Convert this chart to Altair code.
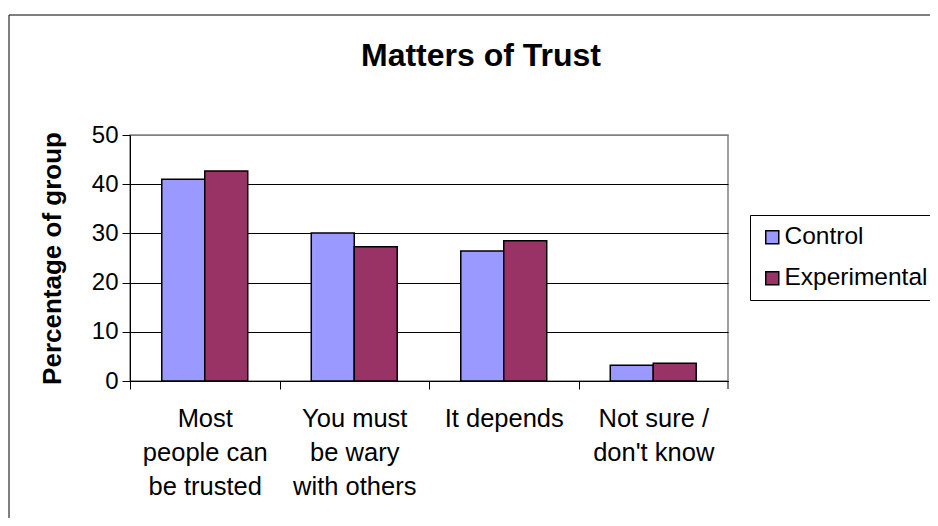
import altair as alt
import pandas as pd

categories = ["Most\npeople can\nbe trusted", "You must\nbe wary\nwith others", "It depends", "Not sure /\ndon't know"]
groups = ["Control", "Experimental"]
control = [41.0, 30.1, 26.4, 3.2]
experimental = [42.7, 27.3, 28.5, 3.6]
colors = ["#9999FF", "#993366"]
y_ticks = [0, 10, 20, 30, 40, 50]
title_text = "Matters of Trust"
y_title = "Percentage of group"

rows = []
for c, v in zip(categories, control):
    rows.append({"category": c, "group": "Control", "value": v})
for c, v in zip(categories, experimental):
    rows.append({"category": c, "group": "Experimental", "value": v})
df = pd.DataFrame(rows)

FONT = "Liberation Sans"
W, H = 598, 246
STEP = W / (len(categories) - 0.425 + 2 * 0.2125)

bars = alt.Chart(df).mark_bar(stroke="black", strokeWidth=1.5).encode(
    x=alt.X("category:N", sort=categories, title=None,
            scale=alt.Scale(paddingInner=0.425, paddingOuter=0.2125),
            axis=alt.Axis(labelExpr="split(datum.value, '\\n')", labelAngle=0,
                          labelFontSize=25.5, labelFont=FONT, labelColor="black",
                          labelLineHeight=34, labelPadding=17, labelBaseline="top",
                          labelAlign="center", labelLimit=0,
                          tickOffset=-STEP / 2, labelOffset=STEP / 2,
                          tickSize=8, tickColor="black", domainColor="black",
                          grid=False)),
    xOffset=alt.XOffset("group:N", sort=groups,
                        scale=alt.Scale(paddingInner=0, paddingOuter=0)),
    y=alt.Y("value:Q", scale=alt.Scale(domain=[0, 50], nice=False),
            axis=alt.Axis(values=y_ticks, title=y_title, titleFontSize=26,
                          titleFont=FONT, titleFontWeight="bold", titleColor="black",
                          titleAngle=270, titleX=-78, titleY=123, titleAlign="center",
                          titleBaseline="middle",
                          labelFontSize=24, labelFont=FONT, labelColor="black",
                          labelPadding=4, tickSize=8, tickColor="black",
                          domainColor="black", grid=True,
                          gridColor={"condition": {"test": "datum.value === 50", "value": "#808080"}, "value": "black"},
                          gridWidth=1)),
    color=alt.Color("group:N", sort=groups,
                    scale=alt.Scale(domain=groups, range=colors),
                    legend=alt.Legend(title=None, orient="none", legendX=620, legendY=80,
                                      strokeColor="black", fillColor="white", padding=10,
                                      symbolType="square", symbolSize=169,
                                      symbolStrokeColor="black", symbolStrokeWidth=1.5,
                                      labelFontSize=24.5, labelFont=FONT, labelColor="black",
                                      rowPadding=16, labelOffset=0)),
)

# closing tick at the right end of the category axis
end_tick = alt.Chart(pd.DataFrame({"a": [0]})).mark_rule(color="black", strokeWidth=1).encode(
    x=alt.value(W), y=alt.value(H), y2=alt.value(H + 8))

border = alt.Chart(pd.DataFrame({"a": [0]})).mark_rect(
    fillOpacity=0, stroke="black", strokeWidth=1
).encode(x=alt.value(-121), y=alt.value(-120), x2=alt.value(1000), y2=alt.value(600))

title = alt.Chart(pd.DataFrame({"t": [title_text]})).mark_text(
    font=FONT, fontSize=32, fontWeight="bold", baseline="alphabetic", align="center", color="black"
).encode(text="t:N", x=alt.value(351), y=alt.value(-69))

chart = alt.layer(border, bars, end_tick, title).properties(
    width=W, height=H,
    autosize=alt.AutoSizeParams(type="none"),
    padding={"left": 122, "top": 127, "right": 202, "bottom": 137},
    background="white",
).configure_view(stroke="#808080", strokeWidth=1.5)

chart.save("out.html", embed_options={"renderer": "svg", "actions": False})
